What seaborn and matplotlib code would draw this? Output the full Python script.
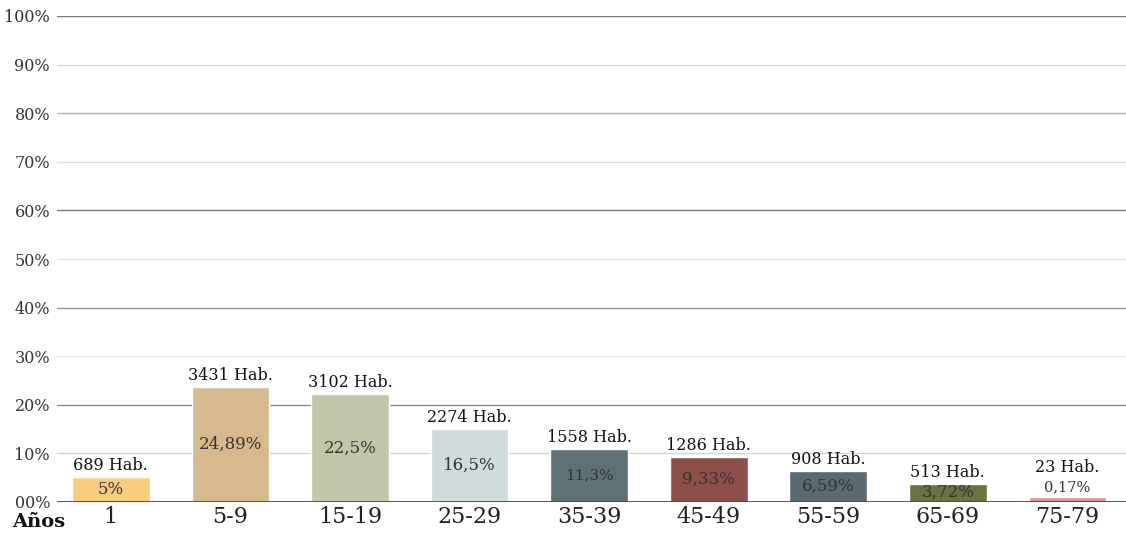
import matplotlib
matplotlib.use("Agg")
import matplotlib.pyplot as plt
import seaborn as sns
import pandas as pd

# ---- data ----
categories = ["1", "5-9", "15-19", "25-29", "35-39", "45-49", "55-59", "65-69", "75-79"]
bar_heights = [5.2, 23.6, 22.2, 15.1, 11.0, 9.2, 6.4, 3.8, 1.0]          # drawn heights (%)
habitantes = [689, 3431, 3102, 2274, 1558, 1286, 908, 513, 23]
pct_labels = ["5%", "24,89%", "22,5%", "16,5%", "11,3%", "9,33%", "6,59%", "3,72%", "0,17%"]
y_ticks = [0, 10, 20, 30, 40, 50, 60, 70, 80, 90, 100]
y_tick_labels = ["00%", "10%", "20%", "30%", "40%", "50%", "60%", "70%", "80%", "90%", "100%"]

colors = ["#F9CD80", "#D6B98C", "#C2C6A9", "#CFDBDC", "#5E7177",
          "#8E4F4A", "#5B6B73", "#6B7340", "#E39292"]

df = pd.DataFrame({"edad": categories, "valor": bar_heights})

sns.set_theme(style="white")
plt.rcParams["font.family"] = ["DejaVu Serif"]

fig = plt.figure(figsize=(11.26, 5.34), dpi=100)
ax = fig.add_axes([57 / 1126, 32 / 534, 1 - 57 / 1126, 486 / 534])

sns.barplot(data=df, x="edad", y="valor", hue="edad", palette=colors,
            legend=False, width=0.65, ax=ax, saturation=1, zorder=3)

ax.set_xlim(-0.45, 8.49)
ax.set_ylim(0, 100)

# gridlines
grid_colors = {10: "#d4d4d4", 20: "#8a8a8a", 30: "#ececec", 40: "#959595", 50: "#e4e4e4",
               60: "#7a7a7a", 70: "#dcdcdc", 80: "#b0b0b0", 90: "#d8d8d8", 100: "#7a7a7a"}
for t in y_ticks[1:]:
    ax.axhline(t, color=grid_colors[t], lw=1.0, zorder=1)
ax.axhline(0, color="#444444", lw=2.0, zorder=4)

for s in ax.spines.values():
    s.set_visible(False)

ax.set_yticks(y_ticks)
ax.set_yticklabels(y_tick_labels, fontsize=11.5, color="#333333")
ax.tick_params(axis="y", length=0, pad=5)
ax.tick_params(axis="x", length=0, pad=3, labelsize=16, labelcolor="#222222")
ax.set_xlabel("")
ax.set_ylabel("")

# labels
inner_sizes = [12, 12, 12, 12, 11, 12, 12, 12, 10.5]
for i, (h, hab, pl) in enumerate(zip(bar_heights, habitantes, pct_labels)):
    ypos = h / 2 if h > 2 else 3.0
    ytop = max(h + 0.6, ypos + 2.3)
    ax.text(i, ytop, f"{hab} Hab.", ha="center", va="bottom",
            fontsize=11.5, color="#111111", zorder=5)
    ax.text(i, ypos, pl, ha="center", va="center", fontsize=inner_sizes[i],
            color="#333333", zorder=5)

fig.text(12 / 1126, 1 - 522 / 534, "Años", ha="left", va="center",
         fontsize=14, fontweight="bold", color="#111111")

fig.savefig("out.png", dpi=100)
